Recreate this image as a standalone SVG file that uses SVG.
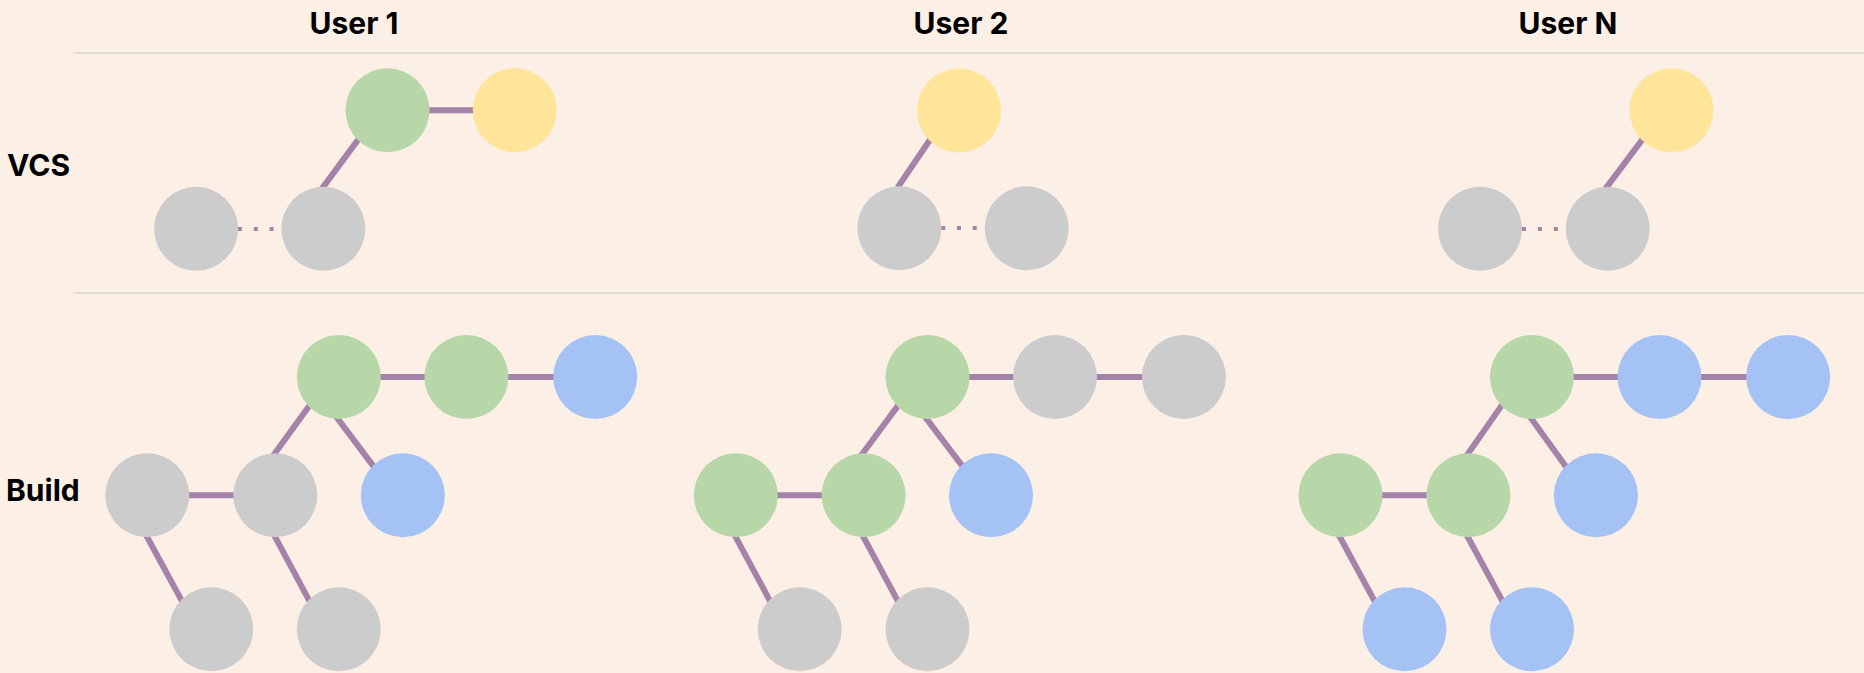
<svg xmlns="http://www.w3.org/2000/svg" width="1864" height="673" viewBox="0 0 1864 673">
<style>
.t{font-family:Inter,"Liberation Sans",sans-serif;font-weight:700;font-size:30px;fill:#000}
.sep{stroke:#dfdbd7;stroke-width:2}
.c{stroke:#a582a8;stroke-width:6;fill:none}
.d{stroke:#a582a8;stroke-width:4;fill:none}
.g{fill:#b7d7a8}.y{fill:#ffe599}.k{fill:#cccccc}.b{fill:#a4c2f4}
</style>
<rect width="1864" height="673" fill="#fbefe6"/>
<g id="headers">
<text class="t" x="354" y="34" text-anchor="middle">User 1</text>
<text class="t" x="961" y="34" text-anchor="middle">User 2</text>
<text class="t" x="1568" y="34" text-anchor="middle">User N</text>
<text class="t" x="7" y="176">VCS</text>
<text class="t" x="6" y="501">Build</text>
</g>
<g id="separators">
<line class="sep" x1="73" y1="53" x2="1864" y2="53"/>
<line class="sep" x1="73" y1="293" x2="1864" y2="293"/>
</g>
<g id="connectors">
<line class="c" x1="321.6" y1="189.1" x2="359.6" y2="137.6"/>
<line class="c" x1="420" y1="110.3" x2="480" y2="110.3"/>
<line class="d" x1="238" y1="229" x2="273.6" y2="229" stroke-dasharray="4 11.8"/>
<line class="c" x1="897.6" y1="187.5" x2="931" y2="138.2"/>
<line class="d" x1="941.3" y1="228" x2="977" y2="228" stroke-dasharray="4 11.7"/>
<line class="c" x1="1605.2" y1="189.1" x2="1643.8" y2="137.6"/>
<line class="d" x1="1521.9" y1="229" x2="1558" y2="229" stroke-dasharray="4 12"/>
<line class="c" x1="338.8" y1="377" x2="595.2" y2="377"/>
<line class="c" x1="147.3" y1="495.3" x2="275.3" y2="495.3"/>
<line class="c" x1="273.1" y1="455.7" x2="311.2" y2="403.3"/>
<line class="c" x1="336.2" y1="416.6" x2="375.6" y2="469.1"/>
<line class="c" x1="145.9" y1="534.7" x2="182.4" y2="601.9"/>
<line class="c" x1="273.9" y1="534.7" x2="309.9" y2="601.9"/>
<line class="c" x1="927.5" y1="377" x2="1183.9" y2="377"/>
<line class="c" x1="735.8" y1="495.3" x2="863.6" y2="495.3"/>
<line class="c" x1="861" y1="455.7" x2="900.2" y2="402.6"/>
<line class="c" x1="924.9" y1="416.6" x2="964.1" y2="468.4"/>
<line class="c" x1="734.4" y1="534.7" x2="770.9" y2="602.6"/>
<line class="c" x1="862.2" y1="534.7" x2="898.7" y2="602.6"/>
<line class="c" x1="1532" y1="377" x2="1788.1" y2="377"/>
<line class="c" x1="1340.5" y1="495.3" x2="1468.4" y2="495.3"/>
<line class="c" x1="1466.6" y1="455.7" x2="1503.7" y2="402.6"/>
<line class="c" x1="1529.8" y1="416.6" x2="1567.3" y2="468.4"/>
<line class="c" x1="1338.7" y1="534.7" x2="1375.4" y2="602.6"/>
<line class="c" x1="1466.6" y1="534.7" x2="1503.3" y2="602.6"/>
</g>
<g id="vcs-user1">
<circle class="g" cx="387.5" cy="110.3" r="42"/>
<circle class="y" cx="514.8" cy="110.3" r="42"/>
<circle class="k" cx="196.1" cy="228.7" r="42"/>
<circle class="k" cx="323.4" cy="228.7" r="42"/>
</g>
<g id="vcs-user2">
<circle class="y" cx="959" cy="110.5" r="42"/>
<circle class="k" cx="899.3" cy="228.3" r="42"/>
<circle class="k" cx="1026.7" cy="228.3" r="42"/>
</g>
<g id="vcs-userN">
<circle class="y" cx="1671.4" cy="110.3" r="42"/>
<circle class="k" cx="1480" cy="228.7" r="42"/>
<circle class="k" cx="1607.7" cy="228.7" r="42"/>
</g>
<g id="build-user1">
<circle class="g" cx="338.8" cy="377" r="42"/>
<circle class="g" cx="466.4" cy="377" r="42"/>
<circle class="b" cx="595.2" cy="377" r="42"/>
<circle class="k" cx="147.3" cy="495.3" r="42"/>
<circle class="k" cx="275.3" cy="495.3" r="42"/>
<circle class="b" cx="402.8" cy="495.3" r="42"/>
<circle class="k" cx="211.3" cy="629.3" r="42"/>
<circle class="k" cx="338.8" cy="629.3" r="42"/>
</g>
<g id="build-user2">
<circle class="g" cx="927.5" cy="377" r="42"/>
<circle class="k" cx="1055" cy="377" r="42"/>
<circle class="k" cx="1183.9" cy="377" r="42"/>
<circle class="g" cx="735.8" cy="495.3" r="42"/>
<circle class="g" cx="863.6" cy="495.3" r="42"/>
<circle class="b" cx="991" cy="495.3" r="42"/>
<circle class="k" cx="799.7" cy="629.3" r="42"/>
<circle class="k" cx="927.5" cy="629.3" r="42"/>
</g>
<g id="build-userN">
<circle class="g" cx="1532" cy="377" r="42"/>
<circle class="b" cx="1659.5" cy="377" r="42"/>
<circle class="b" cx="1788.1" cy="377" r="42"/>
<circle class="g" cx="1340.5" cy="495.3" r="42"/>
<circle class="g" cx="1468.4" cy="495.3" r="42"/>
<circle class="b" cx="1595.9" cy="495.3" r="42"/>
<circle class="b" cx="1404.5" cy="629.3" r="42"/>
<circle class="b" cx="1532" cy="629.3" r="42"/>
</g>
</svg>
